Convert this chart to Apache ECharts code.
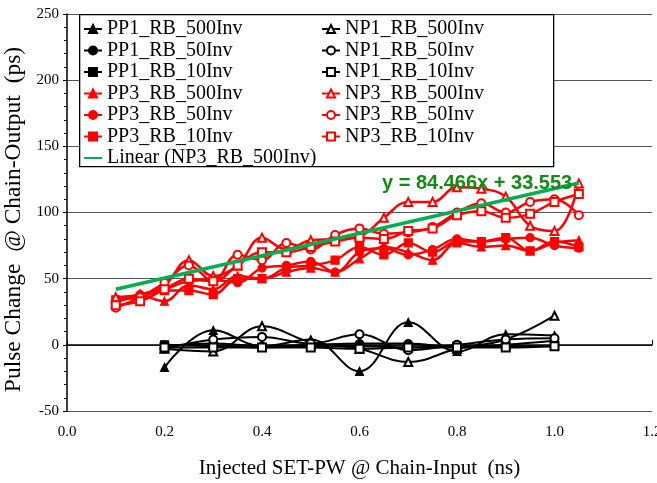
<!DOCTYPE html>
<html>
<head>
<meta charset="utf-8">
<script src="https://cdn.jsdelivr.net/npm/echarts@6/dist/echarts.min.js"></script>
<style>
html,body{margin:0;padding:0;background:#fff;}
#chart{width:657px;height:483px;}
</style>
</head>
<body>
<div id="chart"></div>
<script>
// ---- data ----
var xBlack = [0.2, 0.3, 0.4, 0.5, 0.6, 0.7, 0.8, 0.9, 1.0];
var xRed = [0.1, 0.15, 0.2, 0.25, 0.3, 0.35, 0.4, 0.45, 0.5, 0.55, 0.6, 0.65, 0.7, 0.75, 0.8, 0.85, 0.9, 0.95, 1.0, 1.05];

var PP1_RB_500Inv = [-17, 11, -1, 4, -20, 17, -5, 8, 7];
var PP1_RB_50Inv  = [-1, 1, -1, 0, 1, 1, -2, 0, 3];
var PP1_RB_10Inv  = [0, -1, -2, -1, -1, -2, -1, -1, -1];
var NP1_RB_500Inv = [-3, -5, 14, 2, -3, -13, -3, 4, 22];
var NP1_RB_50Inv  = [-3, 4, 6, 1, 8, -4, 0, 4, 5];
var NP1_RB_10Inv  = [-2, -2, -2, -2, -3, -2, -2, -2, -1];

var PP3_RB_500Inv = [35, 37, 33, 45, 42, 52, 50, 55, 58, 55, 65, 74, 70, 64, 77, 74, 75, 71, 77, 79];
var PP3_RB_50Inv  = [32, 38, 42, 48, 49, 47, 58, 60, 63, 55, 70, 73, 68, 72, 80, 78, 80, 81, 75, 73];
var PP3_RB_10Inv  = [34, 36, 41, 41, 38, 50, 50, 58, 60, 64, 74, 68, 77, 70, 78, 78, 81, 71, 78, 74];
var NP3_RB_500Inv = [36, 38, 45, 64, 52, 60, 81, 72, 79, 80, 82, 96, 108, 108, 119, 118, 112, 90, 86, 122];
var NP3_RB_50Inv  = [28, 36, 47, 60, 48, 68, 64, 77, 72, 83, 88, 84, 85, 89, 100, 107, 100, 108, 110, 98];
var NP3_RB_10Inv  = [30, 33, 42, 50, 48, 60, 70, 70, 74, 78, 81, 80, 86, 88, 98, 101, 96, 99, 108, 114];

// linear trend of NP3_RB_500Inv: y = slope*x + intercept
var trendCoef = [84.466, 33.553];
var trendRange = [0.1, 1.05];

var yTicks = [-50, 0, 50, 100, 150, 200, 250];
var xTicks = [0.0, 0.2, 0.4, 0.6, 0.8, 1.0, 1.2];

function zip(xs, ys){ return xs.map(function(x,i){ return [x, ys[i]]; }); }

var SERIF = "'Liberation Serif','Times New Roman',serif";

function mk(name, xs, ys, color, symbol, width){
  return {
    name: name, type: 'line', data: zip(xs, ys),
    smooth: 0.4,
    symbol: symbol, symbolSize: 8,
    showAllSymbol: true,
    lineStyle: {color: color, width: width},
    itemStyle: {color: color, borderColor: color, borderWidth: 1.2},
    emphasis: {disabled: true},
    animation: false,
    z: 3
  };
}

var series = [
  mk('PP1_RB_500Inv', xBlack, PP1_RB_500Inv, '#000', 'triangle', 2),
  mk('PP1_RB_50Inv',  xBlack, PP1_RB_50Inv,  '#000', 'circle', 2),
  mk('PP1_RB_10Inv',  xBlack, PP1_RB_10Inv,  '#000', 'rect', 2),
  mk('NP1_RB_500Inv', xBlack, NP1_RB_500Inv, '#000', 'emptyTriangle', 2),
  mk('NP1_RB_50Inv',  xBlack, NP1_RB_50Inv,  '#000', 'emptyCircle', 2),
  mk('NP1_RB_10Inv',  xBlack, NP1_RB_10Inv,  '#000', 'emptyRect', 2),
  mk('PP3_RB_500Inv', xRed, PP3_RB_500Inv, '#ff0000', 'triangle', 2.5),
  mk('PP3_RB_50Inv',  xRed, PP3_RB_50Inv,  '#ff0000', 'circle', 2.5),
  mk('PP3_RB_10Inv',  xRed, PP3_RB_10Inv,  '#ff0000', 'rect', 2.5),
  mk('NP3_RB_500Inv', xRed, NP3_RB_500Inv, '#ff0000', 'emptyTriangle', 2.5),
  mk('NP3_RB_50Inv',  xRed, NP3_RB_50Inv,  '#ff0000', 'emptyCircle', 2.5),
  mk('NP3_RB_10Inv',  xRed, NP3_RB_10Inv,  '#ff0000', 'emptyRect', 2.5),
  {
    name: 'Linear (NP3_RB_500Inv)', type: 'line',
    data: trendRange.map(function(x){ return [x, trendCoef[0]*x + trendCoef[1]]; }),
    symbol: 'none', lineStyle: {color: '#00b050', width: 3.5},
    itemStyle: {color: '#00b050'},
    emphasis: {disabled: true}, animation: false, z: 4
  }
];

var legendText = {fontFamily: SERIF, fontSize: 20, color: '#000'};
var chart = echarts.init(document.getElementById('chart'), null, {renderer: 'canvas'});
chart.setOption({
  backgroundColor: '#fff',
  animation: false,
  grid: {left: 67, right: 5, top: 14, bottom: 72, outerBoundsMode: 'none', containLabel: false},
  xAxis: {
    type: 'value', min: 0, max: 1.2, interval: 0.2,
    axisLine: {show: true, lineStyle: {color: '#000', width: 1.5}},
    axisTick: {show: true, inside: true, length: 5, lineStyle: {color: '#000'}},
    axisLabel: {fontFamily: SERIF, fontSize: 15, color: '#000', margin: 14,
      formatter: function(v){ return v.toFixed(1); }},
    splitLine: {show: false},
    name: 'Injected SET-PW @ Chain-Input  (ns)',
    nameLocation: 'middle', nameGap: 47,
    nameTextStyle: {fontFamily: SERIF, fontSize: 21, color: '#000'}
  },
  yAxis: {
    type: 'value', min: -50, max: 250, interval: 50,
    axisLine: {show: true, lineStyle: {color: '#000', width: 1.5}},
    axisTick: {show: true, length: 4, lineStyle: {color: '#000'}},
    minorTick: {show: true, splitNumber: 5, length: 3, lineStyle: {color: '#000'}},
    axisLabel: {fontFamily: SERIF, fontSize: 15, color: '#000', margin: 8},
    splitLine: {show: true, lineStyle: {color: '#555', width: 1.2}},
    name: 'Pulse Change  @ Chain-Output  (ps)',
    nameLocation: 'middle', nameGap: 29,
    nameTextStyle: {fontFamily: SERIF, fontSize: 23.5, color: '#000', padding: [0, 14, 0, 0]}
  },
  legend: [
    {
      orient: 'vertical', left: 83, top: 19,
      itemWidth: 18, itemHeight: 10, itemGap: 1.5, padding: 0,
      textStyle: legendText, selectedMode: false, z: 6,
      data: ['PP1_RB_500Inv','PP1_RB_50Inv','PP1_RB_10Inv','PP3_RB_500Inv','PP3_RB_50Inv','PP3_RB_10Inv',
        {name: 'Linear (NP3_RB_500Inv)', itemStyle: {color: 'rgba(0,0,0,0)', borderWidth: 0}}]
    },
    {
      orient: 'vertical', left: 321, top: 19,
      itemWidth: 18, itemHeight: 10, itemGap: 1.5, padding: 0,
      textStyle: legendText, selectedMode: false, z: 6,
      data: ['NP1_RB_500Inv','NP1_RB_50Inv','NP1_RB_10Inv','NP3_RB_500Inv','NP3_RB_50Inv','NP3_RB_10Inv']
    }
  ],
  graphic: [
    {type: 'rect', left: 79, top: 14, z: 5,
     shape: {width: 474, height: 152},
     style: {fill: '#fff', stroke: '#000', lineWidth: 1.3}},
    {type: 'text', left: 382, top: 173, z: 10,
     style: {text: 'y = 84.466x + 33.553', fill: '#138a13',
       font: "bold 20px 'Liberation Sans', Arial, sans-serif"}}
  ],
  series: series
});
</script>
</body>
</html>
